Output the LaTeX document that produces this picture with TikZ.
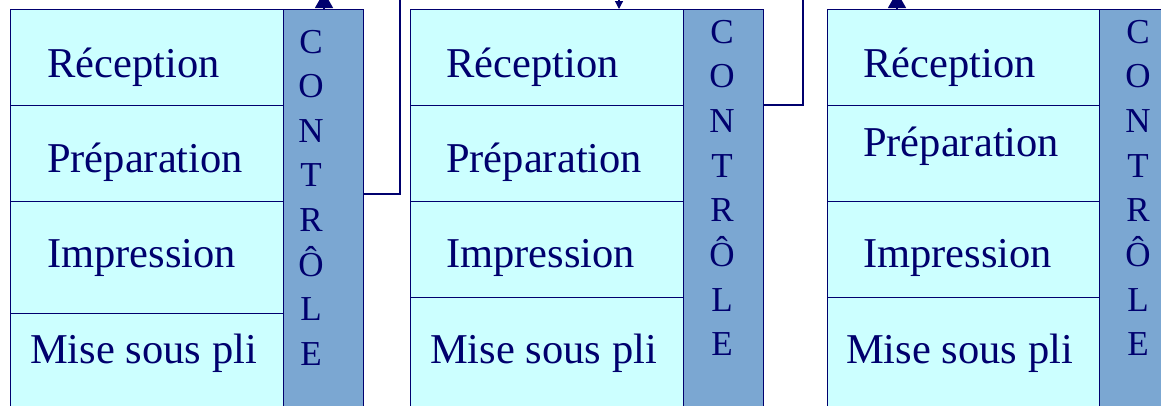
\documentclass[tikz,border=0pt]{standalone}
\usepackage{fontspec}
\setmainfont{Liberation Serif}
\usetikzlibrary{arrows.meta}
\definecolor{navy}{RGB}{0,0,110}
\definecolor{cellfill}{RGB}{204,255,255}
\definecolor{ctrlfill}{RGB}{123,167,210}
\begin{document}
\begin{tikzpicture}[x=1pt,y=-1pt,
  cell/.style={draw=navy, line width=1pt, fill=cellfill, rectangle, inner sep=0pt, outer sep=0pt, anchor=north west},
  ctrl/.style={draw=navy, line width=1pt, fill=ctrlfill, rectangle, inner sep=0pt, outer sep=0pt, anchor=north west, minimum width=80pt, minimum height=411pt},
  lbl/.style={inner sep=0pt, anchor=base west, text=navy, font=\fontsize{42.5}{50}\selectfont},
  letter/.style={inner sep=0pt, anchor=base, text=navy, font=\fontsize{35}{42}\selectfont},
  conn/.style={draw=navy, line width=1.2pt},
  arrbig/.style={draw=navy, line width=1.2pt, -{Triangle[width=18pt,length=16pt]}},
  arrsmall/.style={draw=navy, line width=1.2pt, -{Triangle[width=8pt,length=8pt]}}
]
\useasboundingbox (0,0) rectangle (1161,405);
\clip (0,0) rectangle (1161,405);
\fill[white] (0,0) rectangle (1161,405);

% Panel 1
\node[cell, minimum width=273pt, minimum height=96pt] (r11) at (10,9) {};
\node[cell, minimum width=273pt, minimum height=96pt] (r12) at (10,105) {};
\node[cell, minimum width=273pt, minimum height=112pt] (r13) at (10,201) {};
\node[cell, minimum width=273pt, minimum height=107pt] (r14) at (10,313) {};
\node[ctrl] (c1) at (283,9) {};
\node[lbl] (t11) at (47,77) {Réception};
\node[lbl] (t12) at (47,172) {Préparation};
\node[lbl] (t13) at (47,267) {Impression};
\node[lbl] (t14) at (30,363) {Mise sous pli};
\foreach \l [count=\i from 0] in {C,O,N,T,R,Ô,L,E}
  \node[letter] (k1-\i) at (311,{53+44.6*\i}) {\l};

% Panel 2
\node[cell, minimum width=273pt, minimum height=96pt] (r21) at (410,9) {};
\node[cell, minimum width=273pt, minimum height=96pt] (r22) at (410,105) {};
\node[cell, minimum width=273pt, minimum height=96pt] (r23) at (410,201) {};
\node[cell, minimum width=273pt, minimum height=123pt] (r24) at (410,297) {};
\node[ctrl] (c2) at (683,9) {};
\node[lbl] (t21) at (446,77) {Réception};
\node[lbl] (t22) at (446,172) {Préparation};
\node[lbl] (t23) at (446,267) {Impression};
\node[lbl] (t24) at (430,363) {Mise sous pli};
\foreach \l [count=\i from 0] in {C,O,N,T,R,Ô,L,E}
  \node[letter] (k2-\i) at (722,{43+44.7*\i}) {\l};

% Panel 3
\node[cell, minimum width=272pt, minimum height=96pt] (r31) at (827,9) {};
\node[cell, minimum width=272pt, minimum height=96pt] (r32) at (827,105) {};
\node[cell, minimum width=272pt, minimum height=96pt] (r33) at (827,201) {};
\node[cell, minimum width=272pt, minimum height=123pt] (r34) at (827,297) {};
\node[ctrl, minimum width=81pt] (c3) at (1099,9) {};
\node[lbl] (t31) at (863,77) {Réception};
\node[lbl] (t32) at (863,156) {Préparation};
\node[lbl] (t33) at (863,267) {Impression};
\node[lbl] (t34) at (846,363) {Mise sous pli};
\foreach \l [count=\i from 0] in {C,O,N,T,R,Ô,L,E}
  \node[letter] (k3-\i) at (1138,{43+44.7*\i}) {\l};

% Connectors
\coordinate (u1) at (400,-3);
\draw[conn] (c1.east |- 0,194) -| (u1);
\coordinate (u2) at (803,-3);
\draw[conn] (c2.east |- 0,105) -| (u2);

\coordinate (a1) at (324,-8);
\draw[arrbig] (c1.north -| a1) -- (a1);
\coordinate (a2) at (619,-3);
\draw[arrsmall] (a2) -- (r21.north -| a2);
\coordinate (a3) at (897,-8);
\draw[arrbig] (r31.north -| a3) -- (a3);
\end{tikzpicture}
\end{document}
